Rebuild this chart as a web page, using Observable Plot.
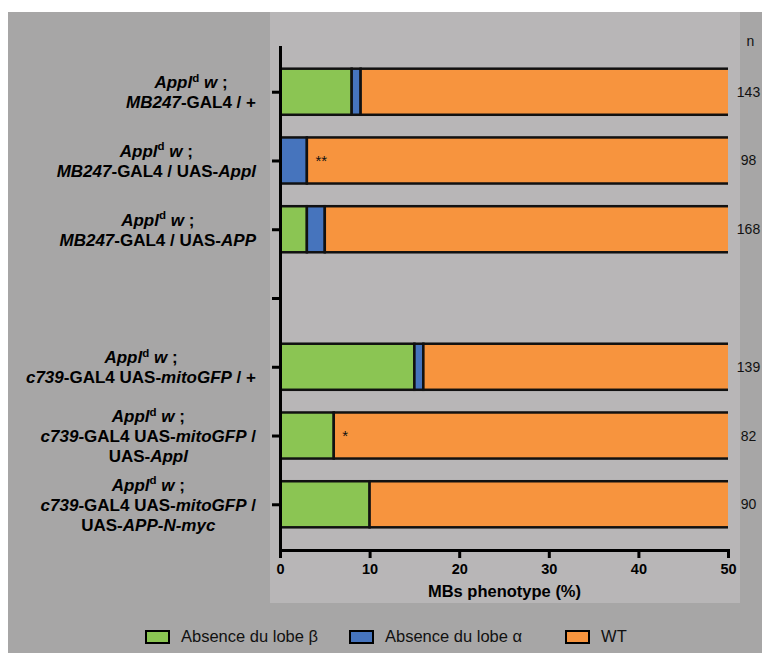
<!DOCTYPE html>
<html>
<head>
<meta charset="utf-8">
<script src="https://cdn.jsdelivr.net/npm/d3@7"></script>
<script src="https://cdn.jsdelivr.net/npm/@observablehq/plot@0.6"></script>
<style>
  body { margin: 0; background: #ffffff; }
  #wrap { position: relative; width: 762px; height: 653px; overflow: hidden; font-family: "Liberation Sans", Arial, sans-serif; }
  #bgdark { position: absolute; left: 8px; top: 12px; width: 754px; height: 641px; background: #a7a6a6; }
  #bglight { position: absolute; left: 270px; top: 12px; width: 470px; height: 591px; background: #b8b6b7; }
  #chart { position: absolute; left: 0; top: 0; }
  #legend { position: absolute; top: 627px; left: 145px; display: flex; align-items: center; font-size: 16.5px; color: #111; white-space: nowrap; }
  .item { display: flex; align-items: center; }
  .sw { width: 21px; height: 10px; border: 2px solid #000; margin-right: 11px; }
  .item + .item { margin-left: 31px; }
  .item:nth-child(3) { margin-left: 43px; }
</style>
</head>
<body>
<div id="wrap">
  <div id="bgdark"></div>
  <div id="bglight"></div>
  <div id="chart"></div>
  <div id="legend"></div>
</div>
<script>
// ---- data ----
const rows = ["MB247 / +", "MB247 / UAS-Appl", "MB247 / UAS-APP", "gap", "c739 / +", "c739 / UAS-Appl", "c739 / UAS-APP-N-myc"];
const types = ["Absence du lobe β", "Absence du lobe α", "WT"];
const colors = ["#8bc553", "#4674bd", "#f7943e"];
const absBeta  = [8, 0, 3, null, 15, 6, 10];
const absAlpha = [1, 3, 2, null, 1, 0, 0];
const wt       = [91, 97, 95, null, 84, 94, 90];
const nCounts  = ["143", "98", "168", "", "139", "82", "90"];
const signif   = ["", "**", "", "", "", "*", ""];
const xTicks   = [0, 10, 20, 30, 40, 50];
const xLabel   = "MBs phenotype (%)";
// rich-text row labels: [text, style] ; style "i" italic, "sup" superscript
const rowLabels = [
  [[["Appl","i"],["d","sup"],[" w","i"],[" ;",""]], [["MB247","i"],["-GAL4 / +",""]]],
  [[["Appl","i"],["d","sup"],[" w","i"],[" ;",""]], [["MB247","i"],["-GAL4 / UAS-",""],["Appl","i"]]],
  [[["Appl","i"],["d","sup"],[" w","i"],[" ;",""]], [["MB247","i"],["-GAL4 / UAS-",""],["APP","i"]]],
  [],
  [[["Appl","i"],["d","sup"],[" w","i"],[" ;",""]], [["c739","i"],["-GAL4 UAS-",""],["mitoGFP","i"],[" / +",""]]],
  [[["Appl","i"],["d","sup"],[" w","i"],[" ;",""]], [["c739","i"],["-GAL4 UAS-",""],["mitoGFP","i"],[" /",""]], [["UAS-",""],["Appl","i"]]],
  [[["Appl","i"],["d","sup"],[" w","i"],[" ;",""]], [["c739","i"],["-GAL4 UAS-",""],["mitoGFP","i"],[" /",""]], [["UAS-",""],["APP-N-myc","i"]]]
];

// ---- tidy table ----
const series = [absBeta, absAlpha, wt];
const data = [];
rows.forEach((r, i) => {
  series.forEach((arr, k) => {
    if (arr[i] > 0) data.push({row: r, type: types[k], value: arr[i]});
  });
});
const sigData = rows.map((r, i) => ({row: r, x: (absBeta[i] || 0) + (absAlpha[i] || 0), text: signif[i]})).filter(d => d.text);
const nData = rows.map((r, i) => ({row: r, text: nCounts[i]})).filter(d => d.text);

const FONT = "Liberation Sans, Arial, Helvetica, sans-serif";

const plot = Plot.plot({
  width: 762,
  height: 603,
  marginLeft: 280,
  marginRight: 34,
  marginTop: 46,
  marginBottom: 53,
  style: {background: "transparent", fontFamily: FONT, overflow: "visible", color: "#000"},
  x: {domain: [0, 50]},
  y: {domain: rows, padding: 0.33, round: false},
  color: {domain: types, range: colors},
  marks: [
    Plot.barX(data, {x: "value", y: "row", fill: "type", stroke: "#111", strokeWidth: 2.5, clip: true}),
    Plot.text(sigData, {x: "x", y: "row", text: "text", dx: 8, textAnchor: "start", fontSize: 15, fill: "#111"}),
    Plot.axisY({tickSize: 8, strokeWidth: 3, tickFormat: () => "", label: null, stroke: "#000"}),
    Plot.axisX({ticks: xTicks, tickSize: 8, tickPadding: 5, strokeWidth: 3, fontSize: 14.5, fontWeight: "bold", label: null, stroke: "#000"}),
    Plot.ruleX([0], {strokeWidth: 3, stroke: "#000"}),
    Plot.frame({anchor: "bottom", strokeWidth: 3, stroke: "#000"}),
    Plot.text([xLabel], {frameAnchor: "bottom", dy: 46, fontSize: 16.5, fontWeight: "bold", fill: "#000"}),
    Plot.text(nData, {y: "row", text: "text", frameAnchor: "right", textAnchor: "middle", dx: 20, fontSize: 14, fill: "#111"}),
    Plot.text(["n"], {frameAnchor: "top-right", textAnchor: "middle", dx: 22, dy: -10, fontSize: 14, fill: "#111"})
  ]
});
document.getElementById("chart").appendChild(plot);

// ---- rich y labels positioned with the plot's y scale ----
const yS = plot.scale("y");
const svg = d3.select(plot);
const g = svg.append("g")
  .attr("font-family", FONT)
  .attr("font-size", 17)
  .attr("font-weight", "bold")
  .attr("fill", "#000");
rows.forEach((r, i) => {
  const lines = rowLabels[i];
  if (!lines.length) return;
  const cy = yS.apply(r) + yS.bandwidth / 2;
  const texts = lines.map((segs, j) => {
    const t = g.append("text")
      .attr("text-anchor", "middle")
      .attr("y", cy + (j - (lines.length - 1) / 2) * 20 + 6.5);
    let raised = false;
    segs.forEach(([s, st]) => {
      const ts = t.append("tspan").text(s);
      if (st === "i") ts.attr("font-style", "italic");
      if (st === "sup") { ts.attr("font-size", 11.5).attr("dy", -6.5); raised = true; }
      else if (raised) { ts.attr("dy", 6.5); raised = false; }
    });
    return t;
  });
  const maxW = d3.max(texts, t => t.node().getComputedTextLength());
  texts.forEach(t => t.attr("x", 256 - maxW / 2));
});

// ---- legend ----
const legend = d3.select("#legend");
types.forEach((t, k) => {
  const it = legend.append("div").attr("class", "item");
  it.append("div").attr("class", "sw").style("background", colors[k]);
  it.append("span").text(t);
});
</script>
</body>
</html>
